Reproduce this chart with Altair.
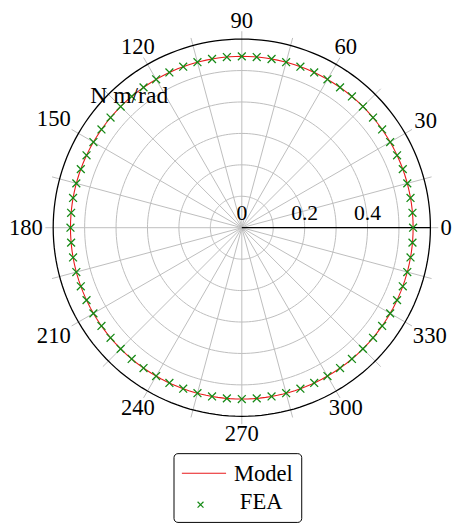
import altair as alt
import pandas as pd
import numpy as np

# ---- data ----
model_theta = list(range(0, 361, 2))
model_r = [0.545] * len(model_theta)
fea_theta = list(range(0, 360, 5))
fea_r = [0.545] * len(fea_theta)

grid_radii = [0.1, 0.2, 0.3, 0.4, 0.5]
outer_radius = 0.6
spoke_angles = list(range(0, 360, 15))
angle_labels = list(range(0, 360, 30))
radial_ticks = [0, 0.2, 0.4]
radial_tick_labels = ["0", "0.2", "0.4"]
series = ["Model", "FEA"]
unit_label = "N m/rad"

FONT = "'Liberation Serif', 'DejaVu Serif', serif"
W = 384
PX = 0.6 / 192.0  # data units per pixel

def polar(df, rcol="r", tcol="theta"):
    df["x"] = df[rcol] * np.cos(np.radians(df[tcol]))
    df["y"] = df[rcol] * np.sin(np.radians(df[tcol]))
    return df

model_df = polar(pd.DataFrame({"theta": model_theta, "r": model_r, "series": series[0]}))
fea_df = polar(pd.DataFrame({"theta": fea_theta, "r": fea_r, "series": series[1]}))

ring_theta = list(range(0, 361, 2))
rings = []
for rr in grid_radii + [outer_radius]:
    for t in ring_theta:
        rings.append({"ring": rr, "theta": t, "r": rr})
ring_df = polar(pd.DataFrame(rings))

spoke_df = pd.DataFrame({"theta": spoke_angles, "r": 0.625})
spoke_df = polar(spoke_df)
spoke_df["x0"] = 0.0
spoke_df["y0"] = 0.0

# angle labels positioned just outside tick ends (box-border anchoring with inner sep)
lab = []
for a in angle_labels:
    txt = str(a)
    hw = 5.9 * len(txt) + 3.0
    hh = 11.0
    c, s = np.cos(np.radians(a)), np.sin(np.radians(a))
    t = min(hw / abs(c) if abs(c) > 1e-9 else 1e9, hh / abs(s) if abs(s) > 1e-9 else 1e9)
    rpx = 199 + t
    lab.append({"label": txt, "x": rpx * c * PX, "y": rpx * s * PX})
lab_df = pd.DataFrame(lab)

rad_df = pd.DataFrame({"x": radial_ticks, "y": [0.0] * 3, "label": radial_tick_labels})
unit_df = pd.DataFrame({"x": [-0.358], "y": [0.397], "label": [unit_label]})

xs = alt.Scale(domain=[-0.6, 0.6], nice=False, zero=False)
ys = alt.Scale(domain=[-0.6, 0.6], nice=False, zero=False)
X = lambda f: alt.X(f, type="quantitative", scale=xs, axis=None)
Y = lambda f: alt.Y(f, type="quantitative", scale=ys, axis=None)

grid_rings = alt.Chart(ring_df[ring_df.ring < 0.55]).mark_line(
    color="#bdbdbd", strokeWidth=1).encode(
    x=X("x"), y=Y("y"), detail="ring:N", order="theta:Q")

outer_ring = alt.Chart(ring_df[ring_df.ring > 0.55]).mark_line(
    color="black", strokeWidth=1.3).encode(
    x=X("x"), y=Y("y"), order="theta:Q")

spokes = alt.Chart(spoke_df).mark_rule(color="#bdbdbd", strokeWidth=1).encode(
    x=X("x0"), y=Y("y0"), x2="x", y2="y")

radial_axis = alt.Chart(pd.DataFrame({"x0": [0.0], "y0": [0.0], "x1": [0.6], "y1": [0.0]})).mark_rule(
    color="black", strokeWidth=1.3).encode(x=X("x0"), y=Y("y0"), x2="x1", y2="y1")

model_line = alt.Chart(model_df).mark_line(color="#e8191b", strokeWidth=1.1).encode(
    x=X("x"), y=Y("y"), order="theta:Q")

xshape = "M -1 -1 L 1 1 M -1 1 L 1 -1"
fea_pts = alt.Chart(fea_df).mark_point(
    shape=xshape, size=64, filled=False, color="#158a15", strokeWidth=1.3, opacity=1).encode(
    x=X("x"), y=Y("y"))

angle_text = alt.Chart(lab_df).mark_text(
    font=FONT, fontSize=23, color="black", align="center", baseline="middle").encode(
    x=X("x"), y=Y("y"), text="label:N")

rad_text = alt.Chart(rad_df).mark_text(
    font=FONT, fontSize=22, color="black", align="center", baseline="alphabetic", dy=-8).encode(
    x=X("x"), y=Y("y"), text="label:N")

unit_text = alt.Chart(unit_df).mark_text(
    font=FONT, fontSize=24, color="black", align="center", baseline="alphabetic").encode(
    x=X("x"), y=Y("y"), text="label:N")

one = pd.DataFrame({"k": [0]})
leg_box = alt.Chart(one).mark_rect(
    fill="white", stroke="black", strokeWidth=1, cornerRadius=4).encode(
    x=alt.value(123), x2=alt.value(253), y=alt.value(422), y2=alt.value(492))
leg_line = alt.Chart(one).mark_rule(color="#e8191b", strokeWidth=1.1).encode(
    x=alt.value(131), x2=alt.value(176), y=alt.value(442))
leg_pt = alt.Chart(one).mark_point(
    shape=xshape, size=36, filled=False, color="#158a15", strokeWidth=1.2, opacity=1).encode(
    x=alt.value(150), y=alt.value(474))
leg_t1 = alt.Chart(one).mark_text(
    font=FONT, fontSize=23, color="black", align="left", baseline="alphabetic").encode(
    x=alt.value(184), y=alt.value(450), text=alt.value(series[0]))
leg_t2 = alt.Chart(one).mark_text(
    font=FONT, fontSize=23, color="black", align="left", baseline="alphabetic").encode(
    x=alt.value(190), y=alt.value(478), text=alt.value(series[1]))

chart = alt.layer(
    grid_rings, spokes, outer_ring, radial_axis, model_line, fea_pts,
    angle_text, rad_text, unit_text,
    leg_box, leg_line, leg_pt, leg_t1, leg_t2,
).properties(
    width=W, height=W,
    background="white",
    autosize=alt.AutoSizeParams(type="none"),
    padding={"left": 46, "top": 27, "right": 23, "bottom": 108},
).configure_view(stroke=None)

chart.save("out.html", embed_options={"renderer": "svg", "actions": False})
